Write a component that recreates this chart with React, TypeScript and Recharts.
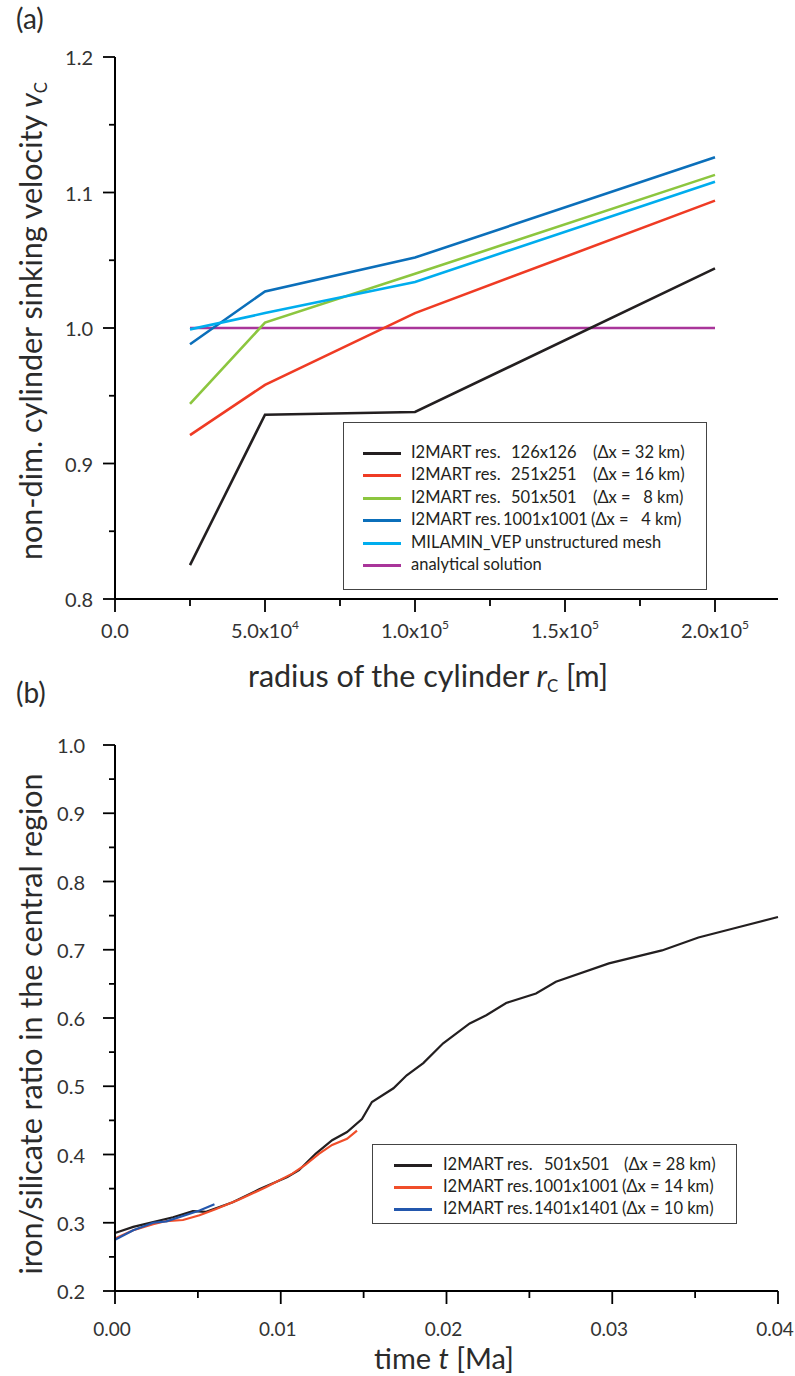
import React from "react";
import { LineChart, Line, XAxis, YAxis, Legend } from "recharts";

// (a) sinking velocity vs. cylinder radius
const radii = [25000, 50000, 100000, 200000];
const res126 = [0.825, 0.936, 0.938, 1.044];
const res251 = [0.921, 0.958, 1.011, 1.094];
const res501 = [0.944, 1.004, 1.040, 1.113];
const res1001 = [0.988, 1.027, 1.052, 1.126];
const milamin = [0.999, 1.011, 1.034, 1.108];
const analytical = [1.0, 1.0, 1.0, 1.0];

const radiusTicks = [0, 25000, 50000, 75000, 100000, 125000, 150000, 175000, 200000];
const velocityTicks = [0.8, 0.85, 0.9, 0.95, 1.0, 1.05, 1.1, 1.15, 1.2];

// (b) iron/silicate ratio vs. time
const time501 = [0, 0.0011, 0.0023, 0.0035, 0.0047, 0.0055, 0.0071, 0.0087, 0.0104, 0.0111, 0.0121, 0.0131, 0.014, 0.0149, 0.0155, 0.0168, 0.0176, 0.0186, 0.0198, 0.0214, 0.0224, 0.0236, 0.0254, 0.0266, 0.0298, 0.033, 0.0352, 0.0376, 0.04];
const ratio501 = [0.285, 0.294, 0.301, 0.308, 0.317, 0.316, 0.33, 0.349, 0.367, 0.377, 0.401, 0.421, 0.433, 0.452, 0.477, 0.497, 0.516, 0.534, 0.563, 0.592, 0.604, 0.622, 0.636, 0.653, 0.68, 0.699, 0.718, 0.733, 0.748];
const time1001 = [0, 0.0011, 0.0023, 0.0031, 0.0041, 0.0051, 0.0061, 0.0075, 0.0091, 0.0107, 0.0115, 0.0123, 0.0131, 0.014, 0.0146];
const ratio1001 = [0.277, 0.289, 0.298, 0.3025, 0.304, 0.311, 0.32, 0.334, 0.352, 0.372, 0.385, 0.401, 0.414, 0.423, 0.435];
const time1401 = [0, 0.0011, 0.0023, 0.0031, 0.0041, 0.0051, 0.006];
const ratio1401 = [0.275, 0.289, 0.3, 0.302, 0.31, 0.318, 0.327];

const timeTicks = [0, 0.005, 0.01, 0.015, 0.02, 0.025, 0.03, 0.035, 0.04];
const ratioTicks = [0.2, 0.25, 0.3, 0.35, 0.4, 0.45, 0.5, 0.55, 0.6, 0.65, 0.7, 0.75, 0.8, 0.85, 0.9, 0.95, 1.0];

const FONT = "Lato, 'Open Sans', sans-serif";
const TICK_COLOR = "#333";

const topRows = radii.map((r, i) => ({
    r,
    res126: res126[i],
    res251: res251[i],
    res501: res501[i],
    res1001: res1001[i],
    milamin: milamin[i],
    analytical: analytical[i],
}));

const topLegend = [
    { label: "I2MART res.", res: "126x126", resX: 100, dx: "(\u0394x = 32 km)", dxX: 182, color: "#231f20" },
    { label: "I2MART res.", res: "251x251", resX: 100, dx: "(\u0394x = 16 km)", dxX: 182, color: "#ef3b24" },
    { label: "I2MART res.", res: "501x501", resX: 100, dx: "(\u0394x =   8 km)", dxX: 182, color: "#8cc63f" },
    { label: "I2MART res.", res: "1001x1001", resX: 92, dx: "(\u0394x =   4 km)", dxX: 180, color: "#0b6fba" },
    { label: "MILAMIN_VEP unstructured mesh", color: "#00adee" },
    { label: "analytical solution", color: "#a9359a" },
];

const bottomLegend = [
    { label: "I2MART res.", res: "501x501", resX: 101, dx: "(\u0394x = 28 km)", dxX: 181, color: "#231f20" },
    { label: "I2MART res.", res: "1001x1001", resX: 91, dx: "(\u0394x = 14 km)", dxX: 179, color: "#f04e2a" },
    { label: "I2MART res.", res: "1401x1401", resX: 91, dx: "(\u0394x = 10 km)", dxX: 179, color: "#2357ad" },
];

const near = (v: number, step: number) => Math.abs(v / step - Math.round(v / step)) < 1e-6;

function makeXTick(step: number, labelDy: number, labelDx: number, fontSize: number, render: (v: number) => React.ReactNode) {
    return (props: any) => {
        const { x, y, payload } = props;
        const major = near(payload.value, step);
        return (
            <g>
                <line x1={x} y1={y} x2={x} y2={y + (major ? 13 : 7)} stroke="#000" strokeWidth={1.8} />
                {major && (
                    <text x={x + labelDx} y={y + labelDy} textAnchor="middle" fontSize={fontSize} fill={TICK_COLOR} fontFamily={FONT}>
                        {render(payload.value)}
                    </text>
                )}
            </g>
        );
    };
}

function makeYTick(step: number, labelGap: number) {
    return (props: any) => {
        const { x, y, payload } = props;
        const major = near(payload.value, step);
        return (
            <g>
                <line x1={x - (major ? 12 : 6)} y1={y} x2={x} y2={y} stroke="#000" strokeWidth={1.8} />
                {major && (
                    <text x={x - labelGap} y={y} textAnchor="end" dominantBaseline="central" fontSize={20} fill={TICK_COLOR} fontFamily={FONT}>
                        {payload.value.toFixed(1)}
                    </text>
                )}
            </g>
        );
    };
}

const radiusLabel = (v: number) => {
    if (v === 0) return "0.0";
    const exp = Math.floor(Math.log10(v));
    const mant = (v / Math.pow(10, exp)).toFixed(1);
    return (
        <>
            <tspan>{mant}x10</tspan>
            <tspan dy={-9} fontSize={12}>{exp}</tspan>
        </>
    );
};

function LegendBox({ rows, width, height, firstY, gap, lineX, textX }: any) {
    return (
        <div
            style={{
                position: "relative",
                width,
                height,
                boxSizing: "border-box",
                border: "1.2px solid #444",
                background: "#fff",
                fontFamily: FONT,
                fontSize: 16.5,
                color: "#231f20",
            }}
        >
            {rows.map((row: any, i: number) => (
                <div key={i} style={{ position: "absolute", left: 0, top: firstY + i * gap - 11, height: 22, width: "100%" }}>
                    <div style={{ position: "absolute", left: lineX, top: 10, width: 38, height: 3, background: row.color }} />
                    <span style={{ position: "absolute", left: textX, top: 0, whiteSpace: "pre" }}>{row.label}</span>
                    {row.res && <span style={{ position: "absolute", left: textX + row.resX, top: 0, whiteSpace: "pre" }}>{row.res}</span>}
                    {row.dx && <span style={{ position: "absolute", left: textX + row.dxX, top: 0, whiteSpace: "pre" }}>{row.dx}</span>}
                </div>
            ))}
        </div>
    );
}

const Sub = ({ children }: any) => (
    <span style={{ fontSize: "0.55em", position: "relative", top: "0.3em" }}>{children}</span>
);

const titleStyle: React.CSSProperties = {
    position: "absolute",
    whiteSpace: "nowrap",
    fontFamily: FONT,
    fontSize: 30.5,
    color: "#2b2b2b",
    lineHeight: 1,
};

export default function App() {
    return (
        <div style={{ position: "absolute", left: 0, top: 0, width: 795, height: 1376, background: "#fff", overflow: "hidden" }}>
            <div style={{ ...titleStyle, left: 16, top: 4, fontSize: 28 }}>(a)</div>
            <div style={{ ...titleStyle, left: 16, top: 678, fontSize: 28 }}>(b)</div>

            <div style={{ position: "absolute", left: 0, top: 0 }}>
                <LineChart width={795} height={700} data={topRows} margin={{ top: 57, right: 17, bottom: 71, left: 55 }}>
                    <XAxis
                        dataKey="r"
                        type="number"
                        domain={[0, 221000]}
                        ticks={radiusTicks}
                        interval={0}
                        height={30}
                        tickSize={0}
                        tickMargin={0}
                        axisLine={{ stroke: "#000", strokeWidth: 2 }}
                        tickLine={false}
                        tick={makeXTick(50000, 39, 0, 20, radiusLabel)}
                    />
                    <YAxis
                        type="number"
                        domain={[0.8, 1.2]}
                        ticks={velocityTicks}
                        interval={0}
                        width={60}
                        tickSize={0}
                        tickMargin={0}
                        axisLine={{ stroke: "#000", strokeWidth: 2 }}
                        tickLine={false}
                        tick={makeYTick(0.1, 22)}
                    />
                    <Line dataKey="analytical" stroke="#a9359a" strokeWidth={2.6} dot={false} isAnimationActive={false} />
                    <Line dataKey="res126" stroke="#231f20" strokeWidth={2.6} dot={false} isAnimationActive={false} />
                    <Line dataKey="res251" stroke="#ef3b24" strokeWidth={2.6} dot={false} isAnimationActive={false} />
                    <Line dataKey="res501" stroke="#8cc63f" strokeWidth={2.6} dot={false} isAnimationActive={false} />
                    <Line dataKey="res1001" stroke="#0b6fba" strokeWidth={2.6} dot={false} isAnimationActive={false} />
                    <Line dataKey="milamin" stroke="#00adee" strokeWidth={2.6} dot={false} isAnimationActive={false} />
                    <Legend
                        layout="vertical"
                        align="center"
                        verticalAlign="middle"
                        wrapperStyle={{ left: 343, top: 422, width: 364, height: 168 }}
                        content={() => (
                            <LegendBox rows={topLegend} width={364} height={168} firstY={30} gap={22.4} lineX={19} textX={67} />
                        )}
                    />
                </LineChart>
            </div>
            <div style={{ ...titleStyle, left: 30, top: 321, transform: "translate(-50%,-50%) rotate(-90deg)" }}>
                non-dim. cylinder sinking velocity <i>v</i><Sub>C</Sub>
            </div>
            <div style={{ ...titleStyle, left: 428, top: 675, transform: "translate(-50%,-50%)" }}>
                radius of the cylinder <i>r</i><Sub>C</Sub> [m]
            </div>

            <div style={{ position: "absolute", left: 0, top: 700 }}>
                <LineChart width={795} height={676} margin={{ top: 45, right: 17, bottom: 55, left: 55 }}>
                    <XAxis
                        dataKey="t"
                        type="number"
                        domain={[0, 0.04]}
                        ticks={timeTicks}
                        interval={0}
                        height={30}
                        tickSize={0}
                        tickMargin={0}
                        axisLine={{ stroke: "#000", strokeWidth: 2 }}
                        tickLine={false}
                        tick={makeXTick(0.01, 45, -3, 19, (v) => v.toFixed(2))}
                    />
                    <YAxis
                        type="number"
                        domain={[0.2, 1.0]}
                        ticks={ratioTicks}
                        interval={0}
                        width={60}
                        tickSize={0}
                        tickMargin={0}
                        axisLine={{ stroke: "#000", strokeWidth: 2 }}
                        tickLine={false}
                        tick={makeYTick(0.1, 30)}
                    />
                    <Line
                        data={time501.map((t, i) => ({ t, v: ratio501[i] }))}
                        dataKey="v"
                        stroke="#231f20"
                        strokeWidth={2.2}
                        dot={false}
                        isAnimationActive={false}
                    />
                    <Line
                        data={time1001.map((t, i) => ({ t, v: ratio1001[i] }))}
                        dataKey="v"
                        stroke="#f04e2a"
                        strokeWidth={2.2}
                        dot={false}
                        isAnimationActive={false}
                    />
                    <Line
                        data={time1401.map((t, i) => ({ t, v: ratio1401[i] }))}
                        dataKey="v"
                        stroke="#2357ad"
                        strokeWidth={2.2}
                        dot={false}
                        isAnimationActive={false}
                    />
                    <Legend
                        layout="vertical"
                        align="center"
                        verticalAlign="middle"
                        wrapperStyle={{ left: 372, top: 444, width: 365, height: 80 }}
                        content={() => (
                            <LegendBox rows={bottomLegend} width={365} height={80} firstY={20} gap={22} lineX={21} textX={70} />
                        )}
                    />
                </LineChart>
            </div>
            <div style={{ ...titleStyle, left: 30, top: 1024, transform: "translate(-50%,-50%) rotate(-90deg)" }}>
                iron/silicate ratio in the central region
            </div>
            <div style={{ ...titleStyle, left: 444, top: 1357, fontSize: 29, transform: "translate(-50%,-50%)" }}>
                time <i>t</i> [Ma]
            </div>
        </div>
    );
}
